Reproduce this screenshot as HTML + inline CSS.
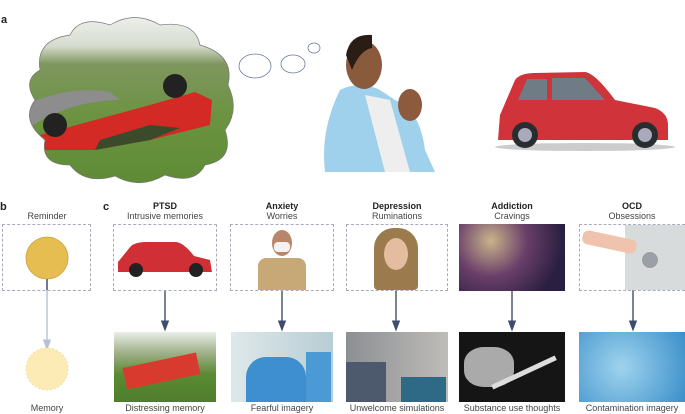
<!DOCTYPE html>
<html><head><meta charset="utf-8"><style>
body{margin:0;width:685px;height:414px;background:#fff;font-family:"Liberation Sans",sans-serif;overflow:hidden;position:relative}
.t{position:absolute;font-size:9px;color:#444;text-align:center;white-space:nowrap}
.b{font-weight:bold;color:#222}
.box{position:absolute;border:1px dashed #aab;box-sizing:border-box}
.p{position:absolute;overflow:hidden}
</style></head><body>
<svg width="685" height="414" style="position:absolute;left:0;top:0">
<defs>
<clipPath id="cl"><path d="M40,70 Q35,40 70,35 Q80,15 110,25 Q135,10 160,25 Q195,20 200,45 Q235,55 228,85 Q240,110 225,130 Q235,160 205,165 Q195,185 165,175 Q140,190 115,176 Q85,185 70,165 Q40,165 45,140 Q20,120 35,100 Q22,80 40,70Z"/></clipPath>
<linearGradient id="sky" x1="0" y1="0" x2="0" y2="1"><stop offset="0" stop-color="#f2f4f1"/><stop offset="0.2" stop-color="#d6dccf"/><stop offset="0.3" stop-color="#7f965f"/><stop offset="0.6" stop-color="#6b9340"/><stop offset="1" stop-color="#5d8a35"/></linearGradient>
<marker id="ar" markerWidth="8" markerHeight="8" refX="4" refY="4" orient="auto"><path d="M0,1 L8,4 L0,7Z" fill="#3f4c6b"/></marker>
<marker id="ar2" markerWidth="8" markerHeight="8" refX="4" refY="4" orient="auto"><path d="M0,1 L8,4 L0,7Z" fill="#b5c0d6"/></marker>
</defs>
<g clip-path="url(#cl)"><rect x="20" y="10" width="220" height="180" fill="url(#sky)"/>
<path d="M25,105 Q70,85 110,92 L120,100 Q70,100 25,130Z" fill="#8d8d8d"/>
<path d="M40,135 L150,105 L195,92 L212,100 L210,125 L150,140 L95,150 L45,150Z" fill="#d42a25"/>
<path d="M95,150 L150,140 L180,128 L150,125 L100,140Z" fill="#3a4a2a"/>
<circle cx="55" cy="125" r="12" fill="#222"/><circle cx="175" cy="86" r="12" fill="#222"/></g>
<path d="M40,70 Q35,40 70,35 Q80,15 110,25 Q135,10 160,25 Q195,20 200,45 Q235,55 228,85 Q240,110 225,130 Q235,160 205,165 Q195,185 165,175 Q140,190 115,176 Q85,185 70,165 Q40,165 45,140 Q20,120 35,100 Q22,80 40,70Z" fill="none" stroke="#777" stroke-width="0.7"/>
<ellipse cx="255" cy="66" rx="16" ry="12" fill="none" stroke="#6a7aa0" stroke-width="0.8"/>
<ellipse cx="293" cy="64" rx="12" ry="9" fill="none" stroke="#6a7aa0" stroke-width="0.8"/>
<ellipse cx="314" cy="48" rx="6" ry="5" fill="none" stroke="#6a7aa0" stroke-width="0.8"/>
<!-- man -->
<path d="M340,90 Q360,80 380,90 L395,100 Q420,110 425,150 L435,172 L325,172 Q320,130 340,90Z" fill="#9fd0ec"/>
<path d="M365,95 L390,100 L410,172 L385,172Z" fill="#eee"/>
<ellipse cx="364" cy="65" rx="18" ry="24" fill="#8a5a3c"/>
<path d="M346,55 Q350,33 372,35 L372,48 Q360,50 352,70Z" fill="#2a1d15"/>
<ellipse cx="410" cy="105" rx="12" ry="16" fill="#8d5a3d"/>
<!-- car right -->
<path d="M500,115 L515,80 Q520,73 535,73 L585,72 Q595,73 615,100 L655,108 Q668,113 668,125 L668,140 L498,140Z" fill="#d0333a"/>
<path d="M518,100 L527,79 L547,79 L547,100Z M552,100 L552,78 L585,78 L605,100Z" fill="#6f7c86"/>
<ellipse cx="585" cy="147" rx="90" ry="4" fill="#ccc"/>
<circle cx="525" cy="135" r="13" fill="#2a2d30"/><circle cx="525" cy="135" r="7" fill="#aab"/>
<circle cx="645" cy="135" r="13" fill="#2a2d30"/><circle cx="645" cy="135" r="7" fill="#aab"/>
<!-- b -->
<circle cx="47" cy="258" r="21" fill="#e6bd50" stroke="#c9a13a" stroke-width="0.8"/>
<line x1="47" y1="279" x2="47" y2="345" stroke="#b5c0d6" stroke-width="1.4" marker-end="url(#ar2)"/>
<line x1="47" y1="279" x2="47" y2="290" stroke="#3f4c6b" stroke-width="1.4"/>
<circle cx="47" cy="369" r="21" fill="#fcebb5" stroke="#f0d98c" stroke-width="0.8" stroke-dasharray="2,2"/>
<g stroke="#3f4c6b" stroke-width="1.4">
<line x1="165" y1="290" x2="165" y2="326" marker-end="url(#ar)"/>
<line x1="282" y1="290" x2="282" y2="326" marker-end="url(#ar)"/>
<line x1="396" y1="290" x2="396" y2="326" marker-end="url(#ar)"/>
<line x1="512" y1="290" x2="512" y2="326" marker-end="url(#ar)"/>
<line x1="633" y1="290" x2="633" y2="326" marker-end="url(#ar)"/>
</g>
</svg>
<div class="t b" style="left:1px;top:14px;font-size:11px">a</div>
<div class="t b" style="left:0;top:201px;font-size:11px">b</div>
<div class="t b" style="left:103px;top:201px;font-size:11px">c</div>
<div class="t" style="left:2px;width:90px;top:211px">Reminder</div>
<div class="box" style="left:2px;top:224px;width:89px;height:67px"></div>
<div class="t" style="left:2px;width:90px;top:403px">Memory</div>

<div class="t b" style="left:113px;width:104px;top:201px">PTSD</div>
<div class="t" style="left:113px;width:104px;top:211px">Intrusive memories</div>
<div class="box" style="left:113px;top:224px;width:104px;height:67px"></div>
<div class="p" style="left:116px;top:240px;width:98px;height:38px"><svg width="98" height="38"><path d="M2,22 L15,6 Q20,2 30,2 L60,2 Q68,3 78,16 L94,20 L96,32 L2,32Z" fill="#cf2f35"/><circle cx="20" cy="30" r="7" fill="#222"/><circle cx="80" cy="30" r="7" fill="#222"/></svg></div>
<div class="p" style="left:114px;top:332px;width:102px;height:70px;background:linear-gradient(#e9eee8 0,#9fb089 30%,#5b8b34 60%,#4f7d2c 100%)"><div style="position:absolute;left:10px;top:28px;width:75px;height:22px;background:#d83a2d;transform:rotate(-12deg)"></div></div>
<div class="t" style="left:108px;width:114px;top:403px">Distressing memory</div>

<div class="t b" style="left:230px;width:104px;top:201px">Anxiety</div>
<div class="t" style="left:230px;width:104px;top:211px">Worries</div>
<div class="box" style="left:230px;top:224px;width:104px;height:67px"></div>
<div class="p" style="left:258px;top:228px;width:48px;height:62px"><div style="position:absolute;left:14px;top:2px;width:20px;height:26px;border-radius:50%;background:#b8876b"></div><div style="position:absolute;left:16px;top:14px;width:16px;height:10px;border-radius:4px;background:#f2f2f2"></div><div style="position:absolute;left:0;top:30px;width:48px;height:32px;background:#c7a877;border-radius:8px 8px 0 0"></div></div>
<div class="p" style="left:231px;top:332px;width:102px;height:70px;background:linear-gradient(90deg,#dfe8ea,#b6cdd4)"><div style="position:absolute;left:15px;top:25px;width:60px;height:45px;background:#3d8fcf;border-radius:20px 20px 0 0"></div><div style="position:absolute;left:75px;top:20px;width:25px;height:50px;background:#4b9ad6"></div></div>
<div class="t" style="left:228px;width:108px;top:403px">Fearful imagery</div>

<div class="t b" style="left:346px;width:102px;top:201px">Depression</div>
<div class="t" style="left:346px;width:102px;top:211px">Ruminations</div>
<div class="box" style="left:346px;top:224px;width:102px;height:67px"></div>
<div class="p" style="left:370px;top:228px;width:52px;height:62px"><div style="position:absolute;left:4px;top:0;width:44px;height:62px;background:#9b7a4e;border-radius:20px 20px 4px 4px"></div><div style="position:absolute;left:14px;top:10px;width:24px;height:32px;border-radius:50%;background:#e4bca0"></div></div>
<div class="p" style="left:346px;top:332px;width:102px;height:70px;background:linear-gradient(90deg,#8c8f94,#bfbcb8)"><div style="position:absolute;left:0;top:30px;width:40px;height:40px;background:#4d5a6d"></div><div style="position:absolute;left:55px;top:45px;width:45px;height:25px;background:#2e6a86"></div></div>
<div class="t" style="left:340px;width:114px;top:403px">Unwelcome simulations</div>

<div class="t b" style="left:459px;width:106px;top:201px">Addiction</div>
<div class="t" style="left:459px;width:106px;top:211px">Cravings</div>
<div class="p" style="left:459px;top:224px;width:106px;height:67px;background:radial-gradient(circle at 30% 25%,#c9b48a,#6a3f6a 40%,#2a1f40 80%)"></div>
<div class="p" style="left:459px;top:332px;width:106px;height:70px;background:#151515"><div style="position:absolute;left:5px;top:15px;width:50px;height:40px;background:#cfcfcf;border-radius:40%;opacity:.8"></div><div style="position:absolute;left:30px;top:38px;width:70px;height:5px;background:#ddd;transform:rotate(-25deg)"></div></div>
<div class="t" style="left:455px;width:114px;top:403px">Substance use thoughts</div>

<div class="t b" style="left:579px;width:106px;top:201px">OCD</div>
<div class="t" style="left:579px;width:106px;top:211px">Obsessions</div>
<div class="box" style="left:579px;top:224px;width:106px;height:67px"></div>
<div class="p" style="left:625px;top:225px;width:60px;height:65px;background:#d7dbdc"></div>
<div class="p" style="left:642px;top:252px;width:16px;height:16px;border-radius:50%;background:#9aa0a6"></div>
<div class="p" style="left:582px;top:235px;width:55px;height:14px;background:#efc3ad;border-radius:6px;transform:rotate(12deg)"></div>
<div class="p" style="left:579px;top:332px;width:106px;height:70px;background:radial-gradient(circle at 40% 50%,#9fd3ee,#3a8fc9)"></div>
<div class="t" style="left:575px;width:114px;top:403px">Contamination imagery</div>
</body></html>
